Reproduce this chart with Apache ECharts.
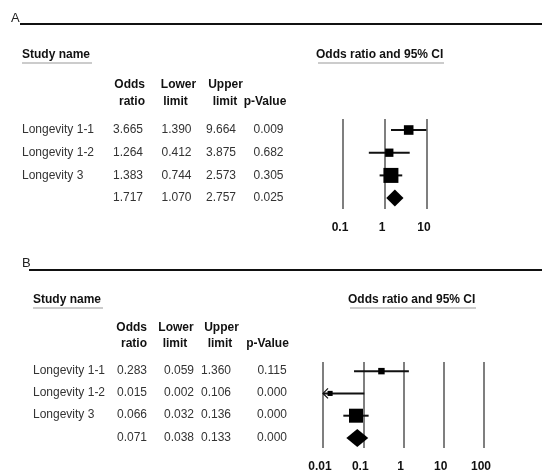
<!DOCTYPE html>
<html>
<head>
<meta charset="utf-8">
<script src="https://cdn.jsdelivr.net/npm/echarts@6/dist/echarts.min.js"></script>
<style>
html,body{margin:0;padding:0;background:#fff;}
#chart{width:542px;height:473px;}
</style>
</head>
<body>
<div id="chart"></div>
<script>
// ---------- data ----------
const studyNames = ['Longevity 1-1', 'Longevity 1-2', 'Longevity 3', ''];
const oddsA  = [3.665, 1.264, 1.383, 1.717];
const lowerA = [1.390, 0.412, 0.744, 1.070];
const upperA = [9.664, 3.875, 2.573, 2.757];
const pA     = [0.009, 0.682, 0.305, 0.025];
const oddsB  = [0.283, 0.015, 0.066, 0.071];
const lowerB = [0.059, 0.002, 0.032, 0.038];
const upperB = [1.360, 0.106, 0.136, 0.133];
const pB     = [0.115, 0.000, 0.000, 0.000];
const summaryRow = [false, false, false, true];
const ticksA = [0.1, 1, 10];
const tickLabelsA = ['0.1', '1', '10'];
const ticksB = [0.01, 0.1, 1, 10, 100];
const tickLabelsB = ['0.01', '0.1', '1', '10', '100'];
const headerTop = ['Odds', 'Lower', 'Upper', ''];
const headerBottom = ['ratio', 'limit', 'limit', 'p-Value'];
const panelLetters = ['A', 'B'];
const sectionTitles = ['Study name', 'Odds ratio and 95% CI'];

// ---------- helpers ----------
const FONT = "'Liberation Sans', Arial, Helvetica, sans-serif";
function fmt(v) { return v.toFixed(3); }
function weights(lo, hi) {
  return lo.map((l, i) => {
    const se = (Math.log(hi[i]) - Math.log(l)) / (2 * 1.959964);
    return 1 / (se * se);
  });
}
function sizes(lo, hi, maxSize) {
  const w = weights(lo, hi).slice(0, 3);
  const wmax = Math.max(...w);
  return w.map(x => maxSize * Math.sqrt(x / wmax));
}
const sizeA = sizes(lowerA, upperA, 15);
const sizeB = sizes(lowerB, upperB, 14);

function tickFormatter(ticks, labels) {
  return function (v) {
    const i = ticks.findIndex(t => Math.abs(Math.log10(t) - Math.log10(v)) < 1e-6);
    return i >= 0 ? labels[i] : '';
  };
}

function makeRender(axisMin, sz, diamondHalf) {
  return function (params, api) {
    const or = api.value(0), lo = api.value(1), hi = api.value(2), row = api.value(3);
    const isSum = summaryRow[params.dataIndex];
    const pOr = api.coord([or, row]);
    const pLo = api.coord([Math.max(lo, axisMin), row]);
    const pHi = api.coord([hi, row]);
    const y = pOr[1];
    const children = [];
    if (isSum) {
      children.push({
        type: 'polygon',
        shape: { points: [[pLo[0], y], [pOr[0], y - diamondHalf], [pHi[0], y], [pOr[0], y + diamondHalf]] },
        style: { fill: '#000' }
      });
    } else {
      children.push({
        type: 'line',
        shape: { x1: pLo[0], y1: y, x2: pHi[0], y2: y },
        style: { stroke: '#111', lineWidth: 2 }
      });
      const s = sz[params.dataIndex];
      children.push({
        type: 'rect',
        shape: { x: pOr[0] - s / 2, y: y - s / 2, width: s, height: s },
        style: { fill: '#000' }
      });
      if (lo < axisMin) {
        children.push({
          type: 'polyline',
          shape: { points: [[pLo[0] + 5, y - 5], [pLo[0], y], [pLo[0] + 5, y + 5]] },
          style: { stroke: '#111', lineWidth: 1.2, fill: null }
        });
      }
    }
    return { type: 'group', children };
  };
}

function rows(odds, lo, hi) {
  return odds.map((o, i) => [o, lo[i], hi[i], i]);
}

// ---------- text layout (graphic) ----------
const graphic = [];
function txt(text, x, y, opts) {
  graphic.push({
    type: 'text', x: x, y: y, silent: true,
    style: Object.assign({
      text: text, font: '12px ' + FONT, fill: '#333',
      textAlign: 'left', textVerticalAlign: 'middle'
    }, opts || {})
  });
}
function hline(x1, x2, y, color, w) {
  graphic.push({ type: 'line', silent: true, shape: { x1, y1: y, x2, y2: y }, style: { stroke: color, lineWidth: w } });
}

const panels = [
  {
    letterX: 11, letterY: 18, ruleX: 20, ruleY: 24,
    titleY: 55, studyX: 22, ciX: 316, ulY: 63,
    h1Y: 85, h2Y: 102,
    rowY: [130, 153, 176, 198],
    nameX: 22,
    colX: [143, 176.5, 221, 268.5], colAlign: ['right', 'center', 'center', 'center'],
    head1X: [145, 178.5, 225.5, 0], head1Align: ['right', 'center', 'center', 'center'],
    head2X: [145, 175.5, 225, 265], head2Align: ['right', 'center', 'center', 'center'],
    odds: oddsA, lo: lowerA, hi: upperA, p: pA
  },
  {
    letterX: 22, letterY: 263, ruleX: 29, ruleY: 270,
    titleY: 300, studyX: 33, ciX: 348, ulY: 308,
    h1Y: 328, h2Y: 344,
    rowY: [371, 393, 415, 438],
    nameX: 33,
    colX: [147, 179, 216, 272], colAlign: ['right', 'center', 'center', 'center'],
    head1X: [147, 176, 221.5, 0], head1Align: ['right', 'center', 'center', 'center'],
    head2X: [147, 175, 220, 267.5], head2Align: ['right', 'center', 'center', 'center'],
    odds: oddsB, lo: lowerB, hi: upperB, p: pB
  }
];

panels.forEach((P, k) => {
  txt(panelLetters[k], P.letterX, P.letterY, { font: '13px ' + FONT, fill: '#222' });
  hline(P.ruleX, 542, P.ruleY, '#111', 2);
  txt(sectionTitles[0], P.studyX, P.titleY, { font: 'bold 12px ' + FONT, fill: '#111' });
  hline(P.studyX, P.studyX + 70, P.ulY, '#999', 1);
  txt(sectionTitles[1], P.ciX, P.titleY, { font: 'bold 12px ' + FONT, fill: '#111' });
  hline(P.ciX + 2, P.ciX + 128, P.ulY, '#999', 1);
  headerTop.forEach((h, j) => {
    if (h) txt(h, P.head1X[j], P.h1Y, { font: 'bold 12px ' + FONT, fill: '#111', textAlign: P.head1Align[j] });
  });
  headerBottom.forEach((h, j) => {
    txt(h, P.head2X[j], P.h2Y, { font: 'bold 12px ' + FONT, fill: '#111', textAlign: P.head2Align[j] });
  });
  P.rowY.forEach((y, i) => {
    if (studyNames[i]) txt(studyNames[i], P.nameX, y);
    const vals = [fmt(P.odds[i]), fmt(P.lo[i]), fmt(P.hi[i]), fmt(P.p[i])];
    vals.forEach((v, j) => txt(v, P.colX[j], y, { textAlign: P.colAlign[j] }));
  });
});

// ---------- chart ----------
const chart = echarts.init(document.getElementById('chart'), null, { renderer: 'canvas' });
function xAxisCfg(gi, min, max, ticks, labels) {
  return {
    type: 'log', logBase: 10, gridIndex: gi, min: min, max: max,
    axisLine: { show: false }, axisTick: { show: false },
    splitLine: { show: true, showMinLine: true, showMaxLine: true, lineStyle: { color: '#555', width: 1.5 } },
    axisLabel: {
      margin: 13, color: '#111', fontFamily: FONT, fontSize: 12, fontWeight: 'bold',
      padding: [0, 6, 0, 0], showMinLabel: true, showMaxLabel: true,
      formatter: tickFormatter(ticks, labels)
    }
  };
}
const option = {
  animation: false,
  backgroundColor: '#fff',
  grid: [
    { left: 343, top: 119, width: 84, height: 90 },
    { left: 323, top: 362, width: 161, height: 86 }
  ],
  xAxis: [
    xAxisCfg(0, ticksA[0], ticksA[ticksA.length - 1], ticksA, tickLabelsA),
    xAxisCfg(1, ticksB[0], ticksB[ticksB.length - 1], ticksB, tickLabelsB)
  ],
  yAxis: [
    { type: 'value', gridIndex: 0, min: -0.485, max: 3.48, inverse: true, show: false },
    { type: 'value', gridIndex: 1, min: -0.41, max: 3.45, inverse: true, show: false }
  ],
  series: [
    {
      type: 'custom', xAxisIndex: 0, yAxisIndex: 0, clip: false,
      renderItem: makeRender(ticksA[0], sizeA, 8.5),
      encode: { x: [0, 1, 2], y: 3 },
      data: rows(oddsA, lowerA, upperA)
    },
    {
      type: 'custom', xAxisIndex: 1, yAxisIndex: 1, clip: false,
      renderItem: makeRender(ticksB[0], sizeB, 9),
      encode: { x: [0, 1, 2], y: 3 },
      data: rows(oddsB, lowerB, upperB)
    }
  ],
  graphic: graphic
};
chart.setOption(option);
</script>
</body>
</html>
